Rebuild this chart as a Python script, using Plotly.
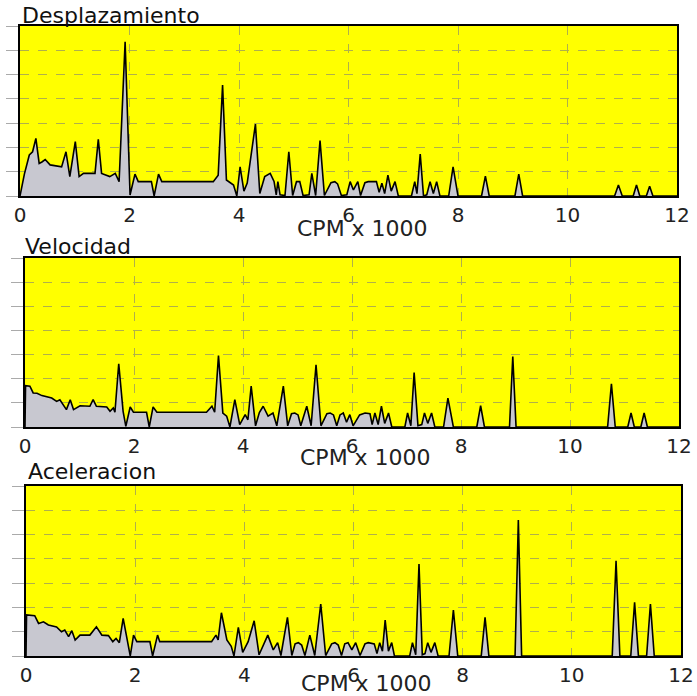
import plotly.graph_objects as go

# ---------------- data (CPM x 1000 vs amplitude, arbitrary units) ----------------
desp_x = [0.00, 0.08, 0.17, 0.23, 0.29, 0.35, 0.40, 0.46, 0.55, 0.76, 0.84, 0.91, 1.01, 1.08, 1.16,
          1.37, 1.43, 1.49, 1.64, 1.74, 1.81, 1.92, 2.01, 2.10, 2.16, 2.40, 2.45, 2.53, 2.59, 3.53,
          3.62, 3.70, 3.77, 3.90, 3.96, 4.02, 4.09, 4.15, 4.30, 4.38, 4.47, 4.57, 4.64, 4.68, 4.71,
          4.75, 4.84, 4.91, 4.98, 5.05, 5.11, 5.17, 5.28, 5.33, 5.40, 5.48, 5.56, 5.68, 5.75, 5.80,
          5.87, 5.97, 6.03, 6.09, 6.17, 6.22, 6.30, 6.36, 6.51, 6.56, 6.61, 6.66, 6.72, 6.78, 6.85,
          6.91, 7.15, 7.21, 7.25, 7.31, 7.37, 7.43, 7.49, 7.55, 7.61, 7.67, 7.83, 7.91, 8.00, 8.43,
          8.50, 8.57, 9.04, 9.11, 9.18, 10.86, 10.93, 11.00, 11.20, 11.26, 11.32, 11.44, 11.50, 11.56,
          12.00]
desp_y = [0.00, 0.90, 1.69, 1.82, 2.37, 1.34, 1.40, 1.50, 1.28, 1.20, 1.82, 0.80, 2.24, 0.80, 0.93,
          0.93, 2.33, 0.93, 0.80, 0.93, 0.59, 6.35, 0.04, 0.90, 0.59, 0.59, 0.00, 0.90, 0.59, 0.59,
          0.86, 4.57, 0.66, 0.45, 0.00, 1.20, 0.20, 0.53, 2.96, 0.10, 0.80, 0.93, 0.60, 0.05, 0.59,
          0.05, 0.02, 1.82, 0.02, 0.59, 0.59, 0.02, 0.05, 0.93, 0.02, 2.28, 0.02, 0.55, 0.59, 0.50,
          0.02, 0.05, 0.59, 0.25, 0.59, 0.02, 0.55, 0.59, 0.59, 0.15, 0.53, 0.10, 0.86, 0.20, 0.59,
          0.00, 0.00, 0.59, 0.10, 1.73, 0.00, 0.05, 0.59, 0.10, 0.59, 0.00, 0.00, 1.20, 0.00, 0.00,
          0.82, 0.00, 0.00, 0.90, 0.00, 0.00, 0.45, 0.00, 0.00, 0.45, 0.00, 0.00, 0.40, 0.00,
          0.00]

vel_x = [0.00, 0.01, 0.09, 0.15, 0.22, 0.31, 0.49, 0.58, 0.64, 0.70, 0.76, 0.83, 0.89, 1.01, 1.19,
         1.25, 1.31, 1.50, 1.56, 1.62, 1.65, 1.72, 1.80, 1.85, 1.93, 1.99, 2.23, 2.28, 2.35, 2.42,
         3.33, 3.43, 3.48, 3.55, 3.63, 3.70, 3.76, 3.85, 3.94, 4.04, 4.09, 4.15, 4.23, 4.30, 4.37,
         4.46, 4.55, 4.62, 4.74, 4.82, 4.89, 4.95, 5.01, 5.06, 5.17, 5.25, 5.34, 5.43, 5.54, 5.60,
         5.66, 5.72, 5.78, 5.84, 5.90, 5.96, 6.02, 6.14, 6.24, 6.33, 6.37, 6.42, 6.48, 6.54, 6.60,
         6.67, 6.73, 6.97, 7.02, 7.08, 7.14, 7.21, 7.28, 7.33, 7.39, 7.46, 7.52, 7.68, 7.76, 7.86,
         8.29, 8.36, 8.43, 8.89, 8.95, 9.01, 10.69, 10.76, 10.83, 11.06, 11.12, 11.18, 11.30, 11.36,
         11.42, 12.00]
vel_y = [0.00, 1.71, 1.69, 1.41, 1.40, 1.30, 1.20, 1.06, 1.13, 0.93, 0.72, 1.13, 0.72, 0.88, 0.86,
         1.13, 0.86, 0.83, 0.65, 0.79, 0.61, 2.62, 0.65, 0.03, 0.83, 0.61, 0.61, 0.00, 0.83, 0.61,
         0.61, 0.86, 0.61, 2.96, 0.58, 0.45, 0.00, 1.13, 0.10, 0.51, 0.30, 1.69, 0.05, 0.60, 0.86,
         0.45, 0.58, 0.05, 1.69, 0.05, 0.55, 0.58, 0.50, 0.05, 0.86, 0.05, 2.58, 0.05, 0.55, 0.58,
         0.50, 0.05, 0.50, 0.58, 0.20, 0.51, 0.05, 0.50, 0.58, 0.55, 0.10, 0.58, 0.10, 0.86, 0.15,
         0.58, 0.00, 0.00, 0.58, 0.05, 2.26, 0.05, 0.10, 0.58, 0.15, 0.58, 0.00, 0.00, 1.20, 0.00,
         0.00, 0.88, 0.00, 0.00, 2.92, 0.00, 0.00, 1.79, 0.00, 0.00, 0.58, 0.00, 0.00, 0.58,
         0.00, 0.00]

acel_x = [0.00, 0.01, 0.16, 0.23, 0.32, 0.41, 0.56, 0.65, 0.71, 0.78, 0.84, 0.90, 0.99, 1.17, 1.29,
          1.39, 1.51, 1.59, 1.65, 1.71, 1.78, 1.86, 1.91, 1.97, 2.03, 2.27, 2.32, 2.41, 2.45, 3.40,
          3.48, 3.52, 3.58, 3.68, 3.76, 3.81, 3.89, 3.97, 4.07, 4.18, 4.27, 4.43, 4.53, 4.61, 4.67,
          4.79, 4.87, 4.93, 4.99, 5.05, 5.11, 5.20, 5.29, 5.40, 5.49, 5.60, 5.66, 5.72, 5.78, 5.84,
          5.90, 5.97, 6.04, 6.12, 6.21, 6.27, 6.38, 6.43, 6.48, 6.53, 6.58, 6.64, 6.70, 6.75, 7.03,
          7.08, 7.14, 7.20, 7.26, 7.31, 7.36, 7.42, 7.49, 7.55, 7.75, 7.83, 7.91, 8.34, 8.41, 8.48,
          8.96, 9.02, 9.08, 10.74, 10.81, 10.88, 11.08, 11.15, 11.22, 11.37, 11.44, 11.51, 12.00]
acel_y = [0.00, 1.69, 1.66, 1.34, 1.41, 1.28, 1.20, 1.00, 1.07, 0.80, 1.04, 0.66, 0.86, 0.86, 1.20,
          0.86, 0.84, 0.59, 0.72, 0.55, 1.55, 0.59, 0.00, 0.86, 0.59, 0.59, 0.00, 0.86, 0.59, 0.59,
          0.86, 0.66, 1.78, 0.66, 0.40, 0.00, 1.18, 0.15, 0.59, 1.45, 0.05, 0.86, 0.25, 0.55, 0.02,
          1.59, 0.02, 0.50, 0.55, 0.45, 0.02, 0.86, 0.02, 2.14, 0.02, 0.50, 0.55, 0.45, 0.02, 0.50,
          0.55, 0.25, 0.55, 0.02, 0.50, 0.55, 0.50, 0.10, 0.55, 0.20, 1.48, 0.20, 0.55, 0.00, 0.00,
          0.55, 0.05, 3.79, 0.05, 0.10, 0.55, 0.15, 0.55, 0.00, 0.00, 1.89, 0.00, 0.00, 1.59, 0.00,
          0.00, 5.60, 0.00, 0.00, 3.92, 0.00, 0.00, 2.21, 0.00, 0.00, 2.14, 0.00, 0.00]

panel_titles = ["Desplazamiento", "Velocidad", "Aceleracion"]
x_title = "CPM x 1000"
x_tickvals = [0, 2, 4, 6, 8, 10, 12]
x_ticktext = ["0", "2", "4", "6", "8", "10", "12"]
y_range = [0, 7]

# ---------------- layout geometry (pixels) ----------------
W, H = 697, 696
panels = [
    # (left, right, top, bottom) plot area in px
    (20, 677, 26, 196),
    (25, 679, 258, 427),
    (26, 681, 486, 656),
]
title_pos = [(20, 22.5), (23, 254), (26, 479)]      # left x, baseline y
xtitle_pos = [(362, 228), (365, 457), (366, 683)]   # center x, center y

FONT = "DejaVu Sans"
series = [(desp_x, desp_y), (vel_x, vel_y), (acel_x, acel_y)]

fig = go.Figure()
annotations = []
for i, ((xs, ys), (l, r, t, b)) in enumerate(zip(series, panels)):
    n = "" if i == 0 else str(i + 1)
    fig.add_trace(go.Scatter(
        x=xs, y=ys, mode="lines", fill="tozeroy",
        fillcolor="#c8c8d0", line=dict(color="black", width=1.6),
        xaxis="x" + n, yaxis="y" + n, showlegend=False, hoverinfo="skip"))
    common_grid = dict(showgrid=True, gridcolor="#b0b04a", griddash="dash", gridwidth=1,
                       zeroline=False, showline=True, linecolor="black", linewidth=2,
                       mirror=True, automargin=False)
    fig.update_layout({
        "xaxis" + n: dict(domain=[l / W, r / W], range=[0, 12], anchor="y" + n,
                          tickvals=x_tickvals, ticktext=x_ticktext, ticks="",
                          tickfont=dict(family=FONT, size=20, color="#222222"),
                          **common_grid),
        "yaxis" + n: dict(domain=[1 - b / H, 1 - t / H], range=y_range, anchor="x" + n,
                          dtick=1, ticks="outside", ticklen=12, tickcolor="#aaaaaa",
                          tickwidth=1, showticklabels=False, **common_grid),
    })
    tx, ty = title_pos[i]
    annotations.append(dict(text=panel_titles[i], x=tx / W, y=1 - (ty - 7) / H,
                             xref="paper", yref="paper", xanchor="left", yanchor="middle",
                             showarrow=False, font=dict(family=FONT, size=22, color="#111111")))
    cx, cy = xtitle_pos[i]
    annotations.append(dict(text=x_title, x=cx / W, y=1 - cy / H,
                            xref="paper", yref="paper", xanchor="center", yanchor="middle",
                            showarrow=False, font=dict(family=FONT, size=22, color="#222222")))

fig.update_layout(
    width=W, height=H,
    margin=dict(l=0, r=0, t=0, b=0, autoexpand=False),
    paper_bgcolor="white",
    plot_bgcolor="#ffff00",
    annotations=annotations,
    showlegend=False,
)

fig.write_html("out.html", config={"displayModeBar": False},
               post_script="document.body.style.margin='0px';document.body.style.overflow='hidden';")
